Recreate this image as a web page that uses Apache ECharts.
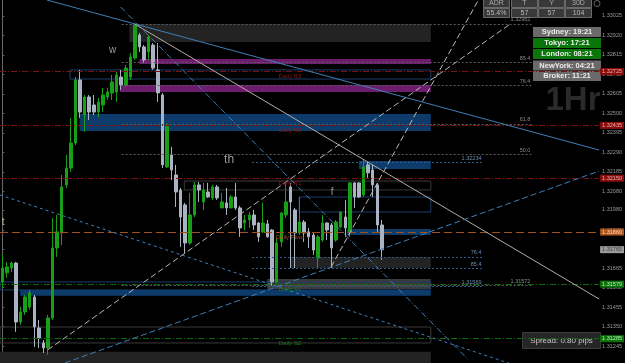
<!DOCTYPE html>
<html><head><meta charset="utf-8">
<script src="https://cdn.jsdelivr.net/npm/echarts@6/dist/echarts.min.js"></script>
<style>html,body{margin:0;padding:0;background:#000;}#c{width:625px;height:363px;}</style>
</head><body><div id="c"></div>
<script>
// ---------------- DATA ----------------
// hourly candles: [open, close, low, high]
const candles = [
 [1.31591,1.31666,1.31559,1.31737],[1.31640,1.31672,1.31613,1.31699],[1.31666,1.31693,1.31645,1.31699],
 [1.31693,1.31375,1.31322,1.31699],[1.31375,1.31429,1.31359,1.31456],[1.31429,1.31510,1.31413,1.31521],
 [1.31456,1.31532,1.31440,1.31548],[1.31510,1.31348,1.31241,1.31521],[1.31343,1.31289,1.31235,1.31386],
 [1.31262,1.31235,1.31208,1.31278],[1.31235,1.31397,1.31198,1.31413],[1.31397,1.31774,1.31386,1.31936],
 [1.31774,1.31861,1.31726,1.31952],[1.31855,1.32103,1.31790,1.32168],[1.32114,1.32205,1.32098,1.32276],
 [1.32205,1.32340,1.32184,1.32475],[1.32340,1.32680,1.32329,1.32696],[1.32680,1.32507,1.32475,1.32734],
 [1.32491,1.32588,1.32400,1.32599],[1.32588,1.32507,1.32464,1.32599],[1.32545,1.32507,1.32491,1.32599],
 [1.32507,1.32561,1.32480,1.32583],[1.32545,1.32599,1.32507,1.32637],[1.32588,1.32615,1.32572,1.32637],
 [1.32610,1.32669,1.32572,1.32707],[1.32615,1.32707,1.32561,1.32723],[1.32696,1.32653,1.32626,1.32734],
 [1.32653,1.32744,1.32642,1.32761],[1.32696,1.32804,1.32680,1.32825],[1.32798,1.32976,1.32788,1.32982],
 [1.32922,1.32858,1.32831,1.32933],[1.32858,1.32788,1.32771,1.32868],[1.32831,1.32912,1.32788,1.32922],
 [1.32868,1.32744,1.32734,1.32879],[1.32734,1.32610,1.32561,1.32879],[1.32599,1.32222,1.32205,1.32610],
 [1.32211,1.32437,1.32205,1.32448],[1.32276,1.32195,1.32141,1.32319],[1.32168,1.32076,1.31995,1.32222],
 [1.32087,1.31941,1.31780,1.32098],[1.32006,1.31801,1.31747,1.32017],[1.31801,1.31952,1.31790,1.32071],
 [1.31952,1.32114,1.31941,1.32130],[1.32114,1.32087,1.32022,1.32130],[1.32022,1.32087,1.31979,1.32125],
 [1.32076,1.32049,1.32044,1.32125],[1.32044,1.32103,1.32033,1.32114],[1.32103,1.32044,1.32033,1.32114],
 [1.31990,1.32022,1.31990,1.32071],[1.32017,1.31990,1.31952,1.32098],[1.31990,1.32049,1.31990,1.32060],
 [1.32049,1.31990,1.31979,1.32125],[1.31990,1.31882,1.31834,1.32001],[1.31909,1.31925,1.31871,1.31952],
 [1.31925,1.31952,1.31882,1.31968],[1.31952,1.31898,1.31871,1.31979],[1.31909,1.31834,1.31807,1.31914],
 [1.31861,1.31909,1.31855,1.32017],[1.31904,1.31834,1.31830,1.31925],[1.31871,1.31591,1.31569,1.31876],
 [1.31591,1.31801,1.31585,1.31828],[1.31807,1.31963,1.31780,1.31968],[1.31952,1.32022,1.31936,1.32125],
 [1.32103,1.32022,1.31666,1.32125],[1.31979,1.31855,1.31666,1.31990],[1.31855,1.31914,1.31844,1.32049],
 [1.31914,1.31855,1.31807,1.31925],[1.31861,1.31834,1.31774,1.31882],[1.31844,1.31763,1.31737,1.31855],
 [1.31720,1.31834,1.31666,1.31844],[1.31817,1.31909,1.31807,1.31952],[1.31909,1.31871,1.31817,1.31912],
 [1.31898,1.31774,1.31666,1.31909],[1.31817,1.31914,1.31807,1.31925],[1.31887,1.31968,1.31882,1.31972],
 [1.31941,1.31882,1.31834,1.32033],[1.31861,1.32125,1.31834,1.32130],[1.32125,1.32049,1.31990,1.32130],
 [1.32125,1.32049,1.32044,1.32128],[1.32060,1.32211,1.32049,1.32249],[1.32222,1.32179,1.32152,1.32238],
 [1.32195,1.32114,1.32049,1.32222],[1.32114,1.31898,1.31861,1.32125],[1.31898,1.31765,1.31710,1.31925]
];
const slotCount = 131;              // visible bar slots (incl. empty future space)
const priceMin = 1.31154, priceMax = 1.33111;
const tickLabels = [1.33025,1.32920,1.32815,1.32710,1.32605,1.32500,1.32395,1.32290,1.32185,
                    1.32080,1.31980,1.31870,1.31765,1.31665,1.31560,1.31455,1.31350,1.31245];
const currentPrice = 1.31765;

const pivotNames  = ['Daily R3','Daily R2','Daily R1','Daily Pivot','Daily S1','Daily S2'];
const pivotValues = [1.32725,1.32435,1.32150,1.31860,1.31579,1.31285];
const pivotKinds  = ['r','r','r','p','s','s'];

// fibonacci retracements (0% at zero, 100% at full)
const fib1 = {zero:1.31572, full:1.32982, fromBar:26.1, toBar:115.7, levels:[0,50,61.8,76.4,85.4,100]};
const fib2 = {zero:1.32234, full:1.31569, fromBar:54.6, toBar:105.0, levels:[0,76.4,85.4,100]};

// zones: bar range and price range
const zones = [
 {from:27.8, to:93.7, hi:1.32982, lo:1.32885, kind:'dark'},
 {from:30.0, to:93.7, hi:1.32793, lo:1.32766, kind:'magenta'},
 {from:25.7, to:93.7, hi:1.32653, lo:1.32615, kind:'magenta'},
 {from:14.8, to:93.7, hi:1.32734, lo:1.32685, kind:'navyBox'},
 {from:16.9, to:93.7, hi:1.32497, lo:1.32405, kind:'blue'},
 {from:78.0, to:93.7, hi:1.32243, lo:1.32200, kind:'blue'},
 {from:39.8, to:93.7, hi:1.32135, lo:1.32087, kind:'greyBox'},
 {from:64.9, to:93.7, hi:1.32049, lo:1.31968, kind:'navyBox'},
 {from:75.3, to:93.7, hi:1.31877, lo:1.31844, kind:'blue'},
 {from:63.1, to:93.7, hi:1.31726, lo:1.31666, kind:'dark'},
 {from:57.9, to:93.7, hi:1.31607, lo:1.31553, kind:'grey'},
 {from:-0.5, to:93.7, hi:1.31591, lo:1.31548, kind:'navyBox'},
 {from:3.9,  to:93.7, hi:1.31548, lo:1.31516, kind:'blue'},
 {from:-0.5, to:93.7, hi:1.31348, lo:1.31262, kind:'greyBox'},
 {from:-0.5, to:93.7, hi:1.31214, lo:1.31154, kind:'dark'}
];

// trend lines: [bar, price] endpoints
const trendLines = [
 {from:[9.74,1.33111], to:[130.5,1.32302], kind:'blueSolid'},
 {from:[28.92,1.32982], to:[130.5,1.31499], kind:'greySolid'},
 {from:[25.87,1.33073], to:[101.9,1.31171], kind:'blueDashDot'},
 {from:[-0.5,1.32060], to:[110.7,1.31154], kind:'blueDot'},
 {from:[13.67,1.31154], to:[130.5,1.32189], kind:'blueDash'},
 {from:[9.96,1.31225], to:[111.1,1.32982], kind:'greyDash'},
 {from:[71.9,1.31672], to:[104.1,1.33111], kind:'greyDash'}
];

// text notes on the chart
const notes = [
 {text:'w',  bar:24.1, price:1.32841, kind:'note'},
 {text:'th', bar:49.6, price:1.32249, kind:'note'},
 {text:'t',  bar:0.2,  price:1.31914, kind:'noteTan'},
 {text:'f',  bar:72.1, price:1.32076, kind:'note'}
];

const adrHead = ['ADR','T','Y','30D'];
const adrVals = ['55.4%','57','57','104'];
const sessions = ['Sydney: 19:21','Tokyo: 17:21','London: 08:21','NewYork: 04:21','Broker: 11:21'];
const sessionOpen = [false,true,true,false,false];
const spreadText = 'Spread: 0.80 pips';
const timeframe = '1Hr';

// ---------------- STYLES ----------------
const FONT = 'Liberation Sans';
const zoneStyle = {
 dark:{color:'#232323'}, magenta:{color:'#6e1c6e'}, blue:{color:'#0d3b6b'},
 grey:{color:'#3a3a3a'},
 navyBox:{color:'rgba(0,0,0,0)', borderColor:'#1c3c6a', borderWidth:1},
 greyBox:{color:'rgba(0,0,0,0)', borderColor:'#3a3a3a', borderWidth:1}
};
const lineKinds = {
 blueSolid:{color:'#3f7fb8', width:1, type:'solid'},
 greySolid:{color:'#b4aca4', width:1, type:'solid'},
 blueDashDot:{color:'#3f7fb8', width:1, type:[6,2,1,2]},
 blueDot:{color:'#3f7fb8', width:1, type:[3,3]},
 blueDash:{color:'#3f7fb8', width:1, type:[6,3]},
 greyDash:{color:'#b8b8b8', width:1, type:[6,3]}
};
const pivotStyle = {
 r:{line:'#7a1212', type:[6,2,1,2], tag:'#8a0c0c', tagText:'#e8b0b0', text:'#8a1a1a'},
 p:{line:'#a0501a', type:[8,4], tag:'#b0561c', tagText:'#f5dcc0', text:'#a05a20'},
 s:{line:'#0e6a0e', type:[6,2,1,2], tag:'#0a740a', tagText:'#c0e8c0', text:'#1a7a1a'}
};

// ---------------- BUILD ----------------
const cats = Array.from({length: slotCount}, (_, i) => i);
const xLo = -0.5, xHi = slotCount - 0.5;
const ov = {type:'line', xAxisIndex:1, yAxisIndex:0, data:[], silent:true, animation:false, symbol:'none'};

const zoneData = zones.map(z => [
  {coord:[z.from, z.hi], itemStyle:zoneStyle[z.kind]},
  {coord:[z.to, z.lo]}
]);

function fibLines(f, col, lab) {
  return f.levels.map(l => {
    const p = f.zero + (f.full - f.zero) * l / 100;
    const txt = (l === 0 || l === 100) ? p.toFixed(5) : l.toFixed(1);
    return [
      {coord:[f.fromBar, p], lineStyle:{color:col, width:1, type:[2,2]},
       label:{show:true, position:'insideEndTop', formatter:txt, color:lab, fontSize:5.5, distance:1, fontFamily:FONT}},
      {coord:[f.toBar, p]}
    ];
  });
}
const fibData = fibLines(fib1, '#5c5c5c', '#8a8a8a').concat(fibLines(fib2, '#2c5a8a', '#6a8fb5'));

function tagLine(v, lineStyle, bg, fg) {
  return [
    {coord:[xLo, v], lineStyle:lineStyle,
     label:{show:true, position:'end', distance:1, formatter:v.toFixed(5), backgroundColor:bg,
       color:fg, fontSize:5.5, padding:[1,2,0,2], fontFamily:FONT}},
    {coord:[xHi, v]}
  ];
}
const pivotData = pivotValues.map((v, i) => {
  const s = pivotStyle[pivotKinds[i]];
  return tagLine(v, {color:s.line, width:1, type:s.type}, s.tag, s.tagText);
});
pivotData.push(tagLine(currentPrice, {color:'rgba(0,0,0,0)', width:1}, '#9c9c9c', '#3a3a3a'));

const pivotTextData = pivotValues.map((v, i) => {
  const s = pivotStyle[pivotKinds[i]];
  return {coord:[62.9, v], symbolSize:1, itemStyle:{color:'rgba(0,0,0,0)'},
    label:{show:true, position:'inside', offset:[0,5], formatter:pivotNames[i], color:s.text, fontSize:6, fontFamily:FONT}};
});
const noteData = notes.map(n => ({coord:[n.bar, n.price], symbolSize:1, itemStyle:{color:'rgba(0,0,0,0)'},
  label:{show:true, position:'inside', formatter:n.text, color: n.kind === 'noteTan' ? '#c4b49c' : '#9a9a9a',
    fontSize: n.text === 'th' ? 12 : 10, fontFamily:FONT}}));

const trendData = trendLines.map(t => [
  {coord:t.from, lineStyle:lineKinds[t.kind]}, {coord:t.to}
]);

// panels
const g = [];
const adrX = [483,511,538,565], adrW = 27;
adrHead.forEach((h, i) => {
  g.push({type:'rect', shape:{x:adrX[i]+0.5, y:-1.5, width:adrW-1, height:9}, style:{fill:'#393939', stroke:'#6a6a6a', lineWidth:1}});
  g.push({type:'rect', shape:{x:adrX[i]+0.5, y:8.5, width:adrW-1, height:9}, style:{fill:'#393939', stroke:'#6a6a6a', lineWidth:1}});
  g.push({type:'text', x:adrX[i]+adrW/2, y:3.5, style:{text:h, fill:'#a8a8a8', font:'7px '+FONT, textAlign:'center', textVerticalAlign:'middle'}});
  g.push({type:'text', x:adrX[i]+adrW/2, y:13, style:{text:adrVals[i], fill:'#b8b8b8', font:'7px '+FONT, textAlign:'center', textVerticalAlign:'middle'}});
});
g.push({type:'circle', shape:{cx:597, cy:3.5, r:3}, style:{fill:'none', stroke:'#666', lineWidth:1}});
const rowY = [27,38,49,60.5,71];
sessions.forEach((s, i) => {
  g.push({type:'rect', shape:{x:533, y:rowY[i], width:68, height:10}, style:{fill: sessionOpen[i] ? '#0a760a' : '#6a6a6a'}});
  g.push({type:'text', x:567, y:rowY[i]+5.3, style:{text:s, fill:'#ececec', font:'bold 7.5px '+FONT, textAlign:'center', textVerticalAlign:'middle'}});
});
g.push({type:'rect', shape:{x:522.5, y:332.5, width:78, height:16}, style:{fill:'#262626', stroke:'#3c3c3c', lineWidth:1}});
g.push({type:'text', x:561.5, y:341, style:{text:spreadText, fill:'#c6c6c6', font:'8px '+FONT, textAlign:'center', textVerticalAlign:'middle'}});
g.push({type:'text', x:573, y:101, style:{text:timeframe, fill:'#2a2a2a', font:'bold 33px '+FONT, textAlign:'center', textVerticalAlign:'middle'}});

const option = {
  backgroundColor:'#000',
  animation:false,
  textStyle:{fontFamily:FONT},
  grid:{left:0, right:24, top:0, bottom:0},
  xAxis:[
    {type:'category', data:cats, boundaryGap:true, show:false},
    {type:'value', min:xLo, max:xHi, show:false}
  ],
  yAxis:{type:'value', position:'right', min:priceMin, max:priceMax,
    axisLine:{show:true, lineStyle:{color:'#6a6a6a'}},
    axisTick:{show:true, customValues:tickLabels, length:2, lineStyle:{color:'#6a6a6a'}},
    axisLabel:{show:true, customValues:tickLabels, formatter:v => v.toFixed(5), color:'#9a9a9a', fontSize:5.5, margin:3, fontFamily:FONT},
    splitLine:{show:false}},
  graphic:{elements:g},
  series:[
    Object.assign({}, ov, {z:1, markArea:{silent:true, data:zoneData}}),
    Object.assign({}, ov, {z:2, markLine:{silent:true, symbol:['none','none'], data:fibData}}),
    {type:'candlestick', xAxisIndex:0, yAxisIndex:0, z:3, data:candles, barWidth:3,
      itemStyle:{color:'#17a017', color0:'#a9b3c2', borderColor:'#17a017', borderColor0:'#a9b3c2', borderWidth:1}},
    Object.assign({}, ov, {z:4, markLine:{silent:true, symbol:['none','none'], data:pivotData},
      markPoint:{silent:true, symbol:'circle', data:pivotTextData}}),
    Object.assign({}, ov, {z:5, markLine:{silent:true, symbol:['none','none'], label:{show:false}, data:trendData},
      markPoint:{silent:true, symbol:'circle', data:noteData}})
  ]
};
const chart = echarts.init(document.getElementById('c'));
chart.setOption(option);
</script></body></html>
